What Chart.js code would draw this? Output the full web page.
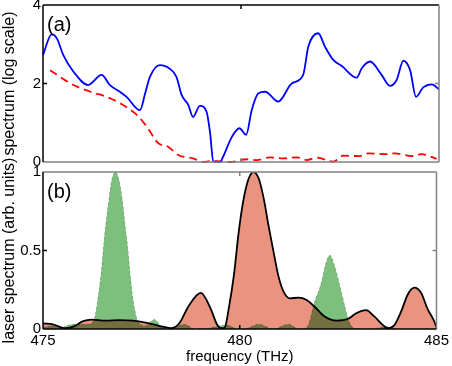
<!DOCTYPE html>
<html>
<head>
<meta charset="utf-8">
<script src="https://cdn.jsdelivr.net/npm/chart.js"></script>
<style>
  body { margin: 0; background: #fff; }
  #wrap { position: relative; width: 452px; height: 366px; overflow: hidden; }
  canvas { position: absolute; left: 0; }
  #bottom { top: 140px; }
  #top { top: -20px; }
</style>
</head>
<body>
<div id="wrap">
  <canvas id="bottom" width="452" height="226"></canvas>
  <canvas id="top" width="452" height="200"></canvas>
</div>
<script>
// panel (a): spectrum on log scale
const blueF = [475.00,475.22,475.35,475.51,475.77,476.14,476.48,476.69,476.94,477.11,477.45,477.58,477.70,477.95,478.21,478.37,478.50,478.67,478.79,478.96,479.13,479.22,479.30,479.47,479.55,479.77,479.96,480.13,480.27,480.44,480.61,480.94,481.28,481.57,481.70,481.95,482.12,482.33,482.54,482.92,483.05,483.26,483.55,483.76,483.93,484.10,484.27,484.42,484.60,484.82,485.00];
const blueV = [2.73,3.25,3.15,2.73,2.30,1.96,2.22,1.96,1.79,1.66,1.32,1.75,2.17,2.47,2.37,2.17,1.71,1.45,1.15,1.43,1.28,0.74,0.01,0.0,0.14,0.64,0.86,0.69,1.32,1.75,1.79,1.54,2.0,2.22,2.94,3.28,2.94,2.60,2.45,2.15,2.39,2.56,2.22,1.94,2.09,2.58,2.34,1.66,1.90,1.98,1.85];
const redF = [475.18,475.77,476.20,476.61,476.94,477.37,477.62,477.91,478.16,478.41,478.79,479.04,479.30,479.72,480.14,480.40,480.73,481.06,481.41,481.66,481.91,482.33,482.58,483.00,483.21,483.64,483.89,484.31,484.56,484.94];
const redV = [2.34,1.96,1.79,1.66,1.50,1.20,0.90,0.48,0.39,0.18,0.09,0.0,0.03,0.0,0.07,0.05,0.12,0.09,0.12,0.05,0.11,0.01,0.16,0.15,0.22,0.20,0.22,0.15,0.20,0.08];

// panel (b): laser spectra
const outF = [475.00,475.25,475.55,475.77,476.02,476.23,476.60,476.94,477.28,477.70,478.04,478.25,478.46,478.71,479.01,479.26,479.43,479.55,479.62,479.72,479.85,479.975,480.10,480.23,480.35,480.48,480.61,480.73,480.86,480.98,481.11,481.28,481.49,481.70,481.91,482.16,482.46,482.75,482.96,483.21,483.42,483.64,483.76,483.93,484.10,484.27,484.44,484.61,484.77,484.94,485.00];
const outV = [0.036,0.03,0.005,0.015,0.05,0.06,0.053,0.057,0.053,0.036,0.015,0.005,0.035,0.15,0.23,0.13,0.025,0.005,0.01,0.13,0.34,0.62,0.83,0.96,1.0,0.96,0.83,0.66,0.49,0.34,0.24,0.195,0.20,0.185,0.14,0.08,0.053,0.064,0.10,0.12,0.08,0.025,0.005,0.025,0.11,0.22,0.263,0.23,0.13,0.05,0.01];
const greenF = [475.00,475.25,475.45,475.65,475.95,476.15,476.30,476.40,476.48,476.53,476.58,476.68,476.75,476.84,476.93,477.01,477.10,477.16,477.21,477.28,477.39,477.47,477.60,477.83,478.02,478.25,478.59,478.85,479.20,479.67,479.95,480.20,480.48,480.85,481.24,481.50,481.70,481.78,481.87,482.08,482.18,482.29,482.40,482.52,482.67,482.76,482.90,483.30,483.76,484.00,485.00];
const greenV = [0.01,0.02,0.005,0.025,0.03,0.03,0.06,0.20,0.36,0.50,0.63,0.83,0.95,1.00,0.95,0.83,0.63,0.50,0.36,0.20,0.06,0.03,0.02,0.06,0.01,0.0,0.03,0.0,0.005,0.025,0.0,0.005,0.03,0.0,0.03,0.0,0.01,0.05,0.145,0.30,0.41,0.47,0.41,0.30,0.145,0.06,0.005,0.0,0.015,0.0,0.0];

const xTicks = [475, 480, 485];

const FONT = '"Liberation Sans", Arial, Helvetica, sans-serif';
const GRAY = '#808080';
Chart.defaults.font.family = FONT;
Chart.defaults.font.size = 15;
Chart.defaults.color = '#000';

const pairs = (xs, ys) => xs.map((x, i) => ({ x: x, y: ys[i] }));

// MATLAB-ish box with inward ticks and the panel tag
function framePlugin(tag, topCol, bottomCol, yMid) {
  return {
    id: 'frame',
    afterDraw(chart) {
      const { ctx, chartArea: a, scales: { x, y } } = chart;
      const seg = (x1, y1, x2, y2, c) => {
        ctx.strokeStyle = c;
        ctx.beginPath(); ctx.moveTo(x1, y1); ctx.lineTo(x2, y2); ctx.stroke();
      };
      ctx.save();
      ctx.lineWidth = 1.5;
      const px = x.getPixelForValue(480);
      seg(px, a.bottom, px, a.bottom - 4, bottomCol);
      seg(px, a.top, px, a.top + 4, topCol);
      const py = y.getPixelForValue(yMid);
      seg(a.left, py, a.left + 4, py, '#000');
      seg(a.right, py, a.right - 4, py, GRAY);
      seg(a.left, a.top, a.right, a.top, topCol);
      seg(a.right, a.top, a.right, a.bottom, GRAY);
      seg(a.left, a.bottom, a.right, a.bottom, bottomCol);
      seg(a.left, a.top, a.left, a.bottom, '#000');
      ctx.fillStyle = '#000';
      ctx.font = '20px ' + FONT;
      ctx.textBaseline = 'middle';
      ctx.textAlign = 'left';
      ctx.fillText(tag, a.left + 4, a.top + 20);
      ctx.restore();
    }
  };
}

// green drawn in multiply mode over the salmon area -> olive overlap
const blendPlugin = {
  id: 'blend',
  afterDatasetDraw(chart, args) {
    chart.ctx.globalCompositeOperation = args.index === 1 ? 'multiply' : 'source-over';
  }
};

const yAxis = (min, max, step, title) => ({
  min: min, max: max,
  ticks: { stepSize: step, padding: 2, callback: v => String(+v.toFixed(2)) },
  grid: { display: false, drawTicks: false },
  border: { display: false },
  title: { display: true, text: title, padding: 0, font: { size: 16 } },
  afterFit(s) { s.width = 43; }
});

new Chart(document.getElementById('top'), {
  type: 'line',
  data: {
    datasets: [
      { data: pairs(blueF, blueV), borderColor: '#0000ff', borderWidth: 1.8,
        pointRadius: 0, cubicInterpolationMode: 'monotone', fill: false, clip: 3 },
      { data: pairs(redF, redV), borderColor: '#ff0000', borderWidth: 1.8, borderDash: [8, 5],
        pointRadius: 0, cubicInterpolationMode: 'monotone', fill: false, clip: 3 }
    ]
  },
  options: {
    responsive: false, animation: false, events: [],
    layout: { padding: { left: 0, right: 13, top: 25, bottom: 18 } },
    plugins: { legend: { display: false }, tooltip: { enabled: false } },
    scales: {
      x: { type: 'linear', min: 475, max: 485, display: false },
      y: yAxis(0, 4, 2, 'spectrum (log scale)')
    }
  },
  plugins: [framePlugin('(a)', '#000', GRAY, 2)]
});

new Chart(document.getElementById('bottom'), {
  type: 'line',
  data: {
    datasets: [
      { data: pairs(greenF, greenV), backgroundColor: 'rgb(125,192,125)',
        borderColor: 'rgba(90,125,90,0.55)', borderWidth: 0.7, borderDash: [3, 2],
        fill: 'origin', pointRadius: 0, cubicInterpolationMode: 'monotone' },
      { data: pairs(outF, outV), backgroundColor: 'rgb(234,148,128)',
        borderColor: '#000', borderWidth: 1.8,
        fill: 'origin', pointRadius: 0, cubicInterpolationMode: 'monotone' }
    ]
  },
  options: {
    responsive: false, animation: false, events: [],
    layout: { padding: { left: 0, right: 13, top: 32, bottom: 0 } },
    plugins: { legend: { display: false }, tooltip: { enabled: false } },
    scales: {
      x: {
        type: 'linear', min: 475, max: 485,
        afterBuildTicks(s) { s.ticks = xTicks.map(v => ({ value: v })); },
        ticks: { padding: 3, maxRotation: 0 },
        grid: { display: false, drawTicks: false },
        border: { display: false },
        title: { display: true, text: 'frequency (THz)', padding: 0 },
        afterFit(s) { s.height = 37; }
      },
      y: yAxis(0, 1, 0.5, 'laser spectrum (arb. units)')
    }
  },
  plugins: [blendPlugin, framePlugin('(b)', GRAY, '#000', 0.5)]
});
</script>
</body>
</html>
